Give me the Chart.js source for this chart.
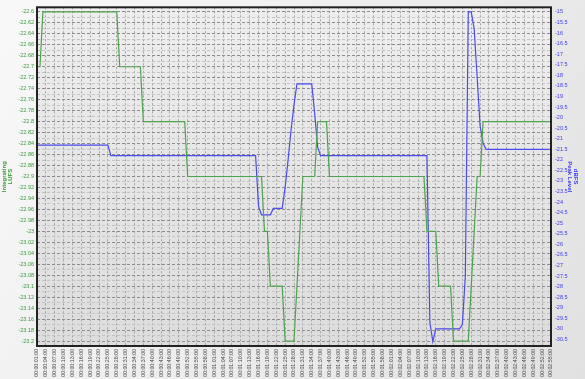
<!DOCTYPE html>
<html>
<head>
<meta charset="utf-8">
<script src="https://cdn.jsdelivr.net/npm/chart.js@4.4.1/dist/chart.umd.min.js"></script>
<style>
  html, body { margin: 0; padding: 0; background: #f2f2f2; }
  #wrap { width: 585px; height: 379px; }
</style>
</head>
<body>
<div id="wrap"><canvas id="c" width="585" height="379"></canvas></div>
<script>
// seconds since start (breakpoints of each trace)
const lufsTimes  = [1, 2, 3, 28, 29, 36, 37, 51, 52, 77, 78, 79, 80, 84, 85, 88, 89, 90, 91, 95, 96, 99, 100, 132, 133, 136, 137, 141, 142, 147, 148, 149, 150, 151, 152, 175];
const lufsValues = [-22.7, -22.7, -22.6, -22.6, -22.7, -22.7, -22.8, -22.8, -22.9, -22.9, -23.0, -23.0, -23.1, -23.1, -23.2, -23.2, -23.1, -23.0, -22.9, -22.9, -22.8, -22.8, -22.9, -22.9, -23.0, -23.0, -23.1, -23.1, -23.2, -23.2, -23.1, -23.0, -22.9, -22.9, -22.8, -22.8];

const peakTimes  = [1, 25, 26, 75, 76, 77, 80, 81, 84, 85, 86, 87, 88, 89, 94, 95, 96, 97, 133, 134, 135, 136, 144, 145, 146, 147, 148, 149, 150, 151, 152, 153, 175];
const peakValues = [-21.3, -21.3, -21.8, -21.8, -24.2, -24.6, -24.6, -24.3, -24.3, -23.3, -22.0, -20.6, -19.4, -18.4, -18.4, -19.8, -21.4, -21.8, -21.8, -29.7, -30.6, -30.0, -30.0, -29.8, -27.5, -15.0, -15.0, -15.8, -18.1, -20.4, -21.2, -21.5, -21.5];

// axis ranges and tick steps
const xFirst = 1, xLast = 175, xStep = 3;
const lufsMin = -23.2, lufsMax = -22.6, lufsStep = 0.01;
const peakMin = -30.5, peakMax = -15, peakStep = 0.5;

const green = '#4fa34f';
const blue = '#4b4bf0';
const fontFamily = "'Liberation Sans', Arial, sans-serif";

const pad2 = (n) => String(n).padStart(2, '0');
const timeLabel = (s) => '00:' + pad2(Math.floor(s / 60)) + ':' + pad2(s % 60) + ':00';

const stepTicks = (lo, hi, step) => {
    const out = [];
    const n = Math.round((hi - lo) / step);
    for (let i = 0; i <= n; i++) out.push({ value: +(lo + i * step).toFixed(4) });
    return out;
};

const frame = {
    id: 'frame',
    beforeDraw(chart) {
        const { ctx, width, height, chartArea: a } = chart;
        ctx.save();
        let g = ctx.createLinearGradient(0, 0, width, height);
        g.addColorStop(0, '#f9f9f9');
        g.addColorStop(1, '#e1e1e1');
        ctx.fillStyle = g;
        ctx.fillRect(0, 0, width, height);
        g = ctx.createLinearGradient(0, a.top, 0, a.bottom);
        g.addColorStop(0, '#eeeeee');
        g.addColorStop(1, '#dddddd');
        ctx.fillStyle = g;
        ctx.fillRect(a.left, a.top, a.right - a.left, a.bottom - a.top);
        ctx.restore();
    },
    afterDraw(chart) {
        const { ctx, chartArea: a } = chart;
        ctx.save();
        ctx.strokeStyle = '#222';
        ctx.lineWidth = 2;
        ctx.strokeRect(a.left, a.top, a.right - a.left, a.bottom - a.top);
        ctx.restore();
    }
};

new Chart(document.getElementById('c'), {
    type: 'line',
    data: {
        datasets: [
            {
                label: 'Integrating LUFS',
                data: lufsTimes.map((t, i) => ({ x: t, y: lufsValues[i] })),
                borderColor: green,
                borderWidth: 1.2,
                pointRadius: 0,
                yAxisID: 'y'
            },
            {
                label: 'Peak Level dBFS',
                data: peakTimes.map((t, i) => ({ x: t, y: peakValues[i] })),
                borderColor: blue,
                borderWidth: 1.2,
                pointRadius: 0,
                yAxisID: 'y2'
            }
        ]
    },
    options: {
        responsive: false,
        animation: false,
        layout: { padding: { top: 2, left: 0, right: 0, bottom: 0 } },
        plugins: { legend: { display: false }, tooltip: { enabled: false } },
        scales: {
            x: {
                type: 'linear',
                min: xFirst,
                max: xLast,
                afterBuildTicks: (s) => { s.ticks = stepTicks(xFirst, xLast, xStep); },
                afterFit: (s) => { s.height = 33; },
                ticks: {
                    autoSkip: false,
                    minRotation: 90,
                    maxRotation: 90,
                    padding: 3,
                    color: '#4a4a4a',
                    font: { family: fontFamily, size: 5.3 },
                    callback: (v) => timeLabel(Math.round(v))
                },
                grid: { color: '#a2a2a2', drawTicks: false },
                border: { display: false, dash: [2, 2] }
            },
            y: {
                type: 'linear',
                position: 'left',
                min: -23.209,
                max: -22.5916,
                afterBuildTicks: (s) => { s.ticks = stepTicks(lufsMin, lufsMax, lufsStep); },
                afterFit: (s) => { s.width = 37; },
                ticks: {
                    autoSkip: false,
                    padding: 3,
                    color: '#3a9a3a',
                    font: { family: fontFamily, size: 5.5 },
                    callback: (v, i) => (i % 2 === 0 ? String(+v.toFixed(2)) : '')
                },
                grid: {
                    drawTicks: false,
                    color: (ctx) => (ctx.index % 2 === 0 ? '#8c8c8c' : '#c4c4c4')
                },
                border: { display: false, dash: [3, 2] },
                title: {
                    display: true,
                    text: ['Integrating', 'LUFS'],
                    color: '#3a9a3a',
                    padding: { top: 1, bottom: 0 },
                    font: { family: fontFamily, size: 6, weight: 'bold', lineHeight: 1 }
                }
            },
            y2: {
                type: 'linear',
                position: 'right',
                min: -30.81,
                max: -14.78,
                afterBuildTicks: (s) => { s.ticks = stepTicks(peakMin, peakMax, peakStep); },
                afterFit: (s) => { s.width = 34; },
                ticks: {
                    autoSkip: false,
                    padding: 4,
                    color: '#3a3af0',
                    font: { family: fontFamily, size: 5.5 },
                    callback: (v) => String(+v.toFixed(1))
                },
                grid: { display: false, drawTicks: false },
                border: { display: false },
                title: {
                    display: true,
                    text: ['dBFS', 'Peak Level'],
                    color: '#3a3af0',
                    padding: { top: 6, bottom: 0 },
                    font: { family: fontFamily, size: 6, weight: 'bold', lineHeight: 1 }
                }
            }
        }
    },
    plugins: [frame]
});
</script>
</body>
</html>
